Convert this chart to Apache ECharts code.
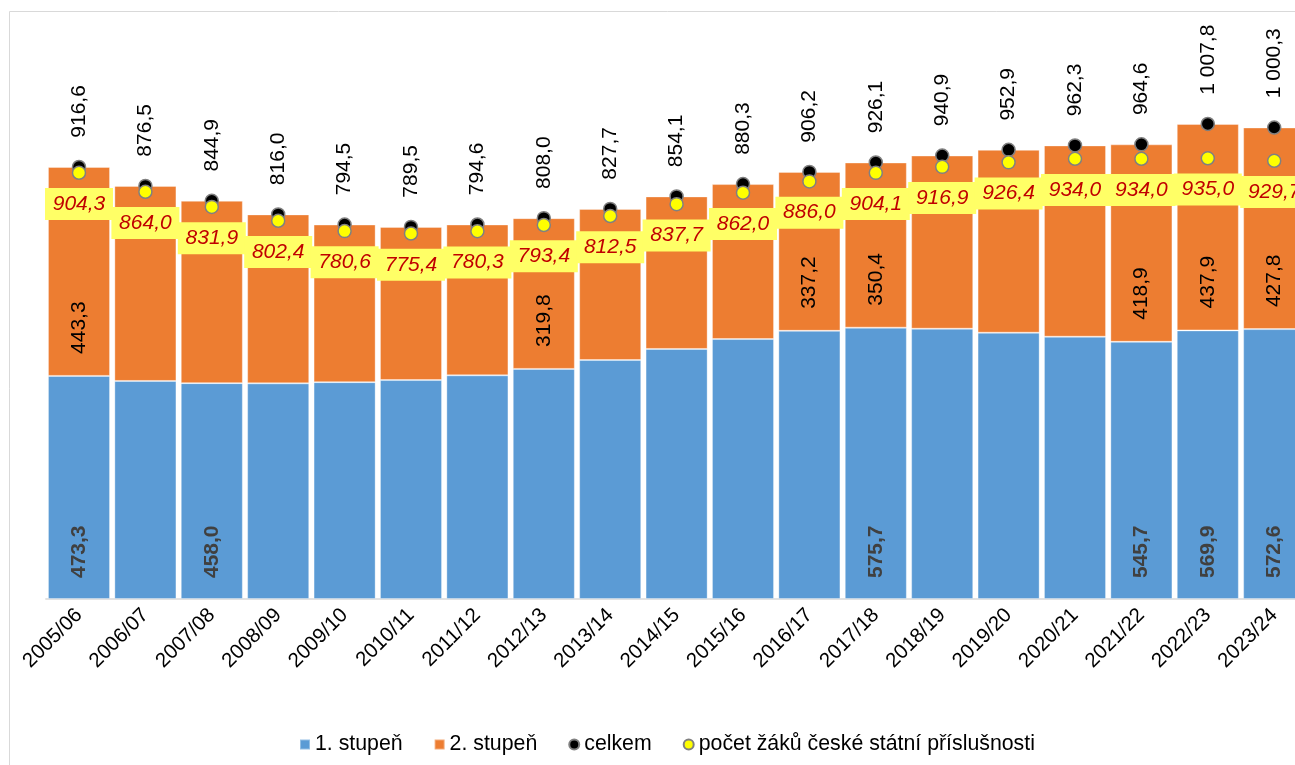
<!DOCTYPE html>
<html>
<head>
<meta charset="utf-8">
<script src="https://cdn.jsdelivr.net/npm/echarts@6/dist/echarts.min.js"></script>
<style>
html,body{margin:0;padding:0;background:#fff;overflow:hidden;width:1295px;height:765px;}
#c{width:1325px;height:765px;}
</style>
</head>
<body>
<div id="c"></div>
<script>
const categories = ['2005/06','2006/07','2007/08','2008/09','2009/10','2010/11','2011/12','2012/13','2013/14','2014/15','2015/16','2016/17','2017/18','2018/19','2019/20','2020/21','2021/22','2022/23','2023/24'];
const stupen1 = [473.3,462.6,458.0,457.5,460.0,464.5,474.5,488.2,507.0,530.5,551.5,569.0,575.7,573.5,565.0,556.5,545.7,569.9,572.6];
const stupen2 = [443.3,413.9,386.9,358.5,334.5,325.0,320.1,319.8,320.7,323.6,328.8,337.2,350.4,367.4,387.9,405.8,418.9,437.9,427.8];
const celkem = [916.6,876.5,844.9,816.0,794.5,789.5,794.6,808.0,827.7,854.1,880.3,906.2,926.1,940.9,952.9,962.3,964.6,1007.8,1000.3];
const ceskych = [904.3,864.0,831.9,802.4,780.6,775.4,780.3,793.4,812.5,837.7,862.0,886.0,904.1,916.9,926.4,934.0,934.0,935.0,929.7];
const labeled1 = ['2005/06','2007/08','2017/18','2021/22','2022/23','2023/24'];
const labeled2 = ['2005/06','2012/13','2016/17','2017/18','2021/22','2022/23','2023/24'];
const seriesNames = ['1. stupeň','2. stupeň','celkem','počet žáků české státní příslušnosti'];

function fmt(v){
  const s = v.toFixed(1).split('.');
  const int = s[0].replace(/\B(?=(\d{3})+(?!\d))/g, ' ');
  return int + ',' + s[1];
}
const FONT = 'Liberation Sans, Arial, sans-serif';

const chart = echarts.init(document.getElementById('c'));
chart.setOption({
  animation:false,
  textStyle:{fontFamily:FONT},
  graphic:[{type:'rect',shape:{x:9.5,y:11.5,width:1400,height:800},style:{fill:'none',stroke:'#d9d9d9',lineWidth:1},z:-10,silent:true}],
  legend:{
    left:294, top:729, itemWidth:10, itemHeight:10, itemGap:31,
    textStyle:{fontSize:21.3,color:'#000',fontFamily:FONT},
    data:[
      {name:seriesNames[0],icon:'rect'},
      {name:seriesNames[1],icon:'rect'},
      {name:seriesNames[2],icon:'circle'},
      {name:seriesNames[3],icon:'circle'}
    ]
  },
  grid:{left:45.8,width:1261.6,top:33.4,bottom:166,containLabel:false},
  xAxis:{
    type:'category', data:categories,
    axisLine:{lineStyle:{color:'#d9d9d9',width:1.5}},
    axisTick:{show:false},
    axisLabel:{rotate:45,fontSize:20.5,color:'#000',fontFamily:FONT,margin:13,interval:0}
  },
  yAxis:{type:'value',min:0,max:1200,show:false,splitLine:{show:false}},
  series:[
    {
      name:seriesNames[0], type:'bar', stack:'s', barCategoryGap:'6.5%',
      itemStyle:{color:'#5B9BD5',borderColor:'rgba(255,255,255,0.35)',borderWidth:1},
      data:stupen1.map((v,i)=>({value:v,label:{show:labeled1.includes(categories[i])}})),
      label:{position:'insideBottom',distance:21,rotate:90,align:'left',verticalAlign:'middle',
        fontSize:21,fontWeight:'bold',color:'#404040',fontFamily:FONT,formatter:p=>fmt(p.value)}
    },
    {
      name:seriesNames[1], type:'bar', stack:'s',
      itemStyle:{color:'#ED7D31',borderColor:'rgba(255,255,255,0.35)',borderWidth:1},
      data:stupen2.map((v,i)=>({value:v,label:{show:labeled2.includes(categories[i])}})),
      label:{position:'insideBottom',distance:22,rotate:90,align:'left',verticalAlign:'middle',
        fontSize:21,color:'#000',fontFamily:FONT,formatter:p=>fmt(p.value)}
    },
    {
      name:seriesNames[2], type:'line', data:celkem, symbol:'circle', symbolSize:13,
      lineStyle:{opacity:0,width:0},
      itemStyle:{color:'#000',borderColor:'#808080',borderWidth:1.5},
      label:{show:true,position:'top',distance:22,rotate:90,align:'left',verticalAlign:'middle',
        fontSize:21,color:'#000',fontFamily:FONT,formatter:p=>fmt(p.value)},
      z:3
    },
    {
      name:seriesNames[3], type:'line', data:ceskych, symbol:'circle', symbolSize:13,
      lineStyle:{opacity:0,width:0},
      itemStyle:{color:'#FFFF00',borderColor:'#808080',borderWidth:1.5},
      label:{show:true,position:'bottom',distance:8,
        fontSize:21,fontStyle:'italic',color:'#C00000',fontFamily:FONT,
        backgroundColor:'#FFFF66',width:62,height:22,lineHeight:22,padding:[5,3],align:'center',
        formatter:p=>fmt(p.value)},
      z:4
    }
  ]
});
</script>
</body>
</html>
